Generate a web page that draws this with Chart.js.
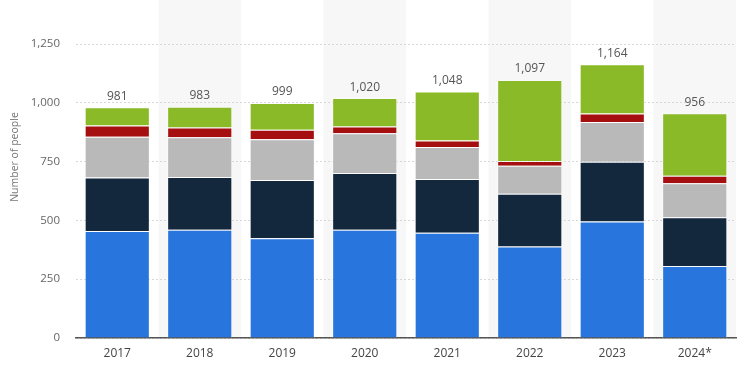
<!DOCTYPE html>
<html>
<head>
<meta charset="utf-8">
<script src="https://cdn.jsdelivr.net/npm/chart.js@4/dist/chart.umd.min.js"></script>
<style>
html,body{margin:0;padding:0;background:#fff;}
#wrap{width:750px;height:375px;position:relative;}
</style>
</head>
<body>
<div id="wrap"><canvas id="c" width="750" height="375"></canvas></div>
<script>
const categories = ["2017","2018","2019","2020","2021","2022","2023","2024*"];
const white    = [455, 460, 424, 460, 448, 389, 495, 306];
const black    = [227, 225, 248, 241, 228, 224, 254, 207];
const hispanic = [174, 169, 173, 170, 136, 119, 169, 145];
const other    = [47, 41, 40, 28, 28, 21, 37, 32];
const unknown  = [78, 88, 114, 121, 208, 344, 209, 266];
const totals   = [981, 983, 999, 1020, 1048, 1097, 1164, 956];
const yTicks   = [0, 250, 500, 750, 1000, 1250];
const yTitle   = "Number of people";

const FONT = "'Open Sans', 'Noto Sans', sans-serif";

const bandPlugin = {
  id: 'bands',
  beforeDraw(chart) {
    const {ctx, chartArea, scales} = chart;
    const x = scales.x;
    ctx.save();
    ctx.fillStyle = '#f7f7f7';
    const half = (x.getPixelForValue(1) - x.getPixelForValue(0)) / 2;
    for (let i = 1; i < categories.length; i += 2) {
      const c = x.getPixelForValue(i);
      ctx.fillRect(c - half, 0, half * 2, chartArea.bottom);
    }
    ctx.restore();
  }
};

const totalsPlugin = {
  id: 'totals',
  afterDatasetsDraw(chart) {
    const {ctx, scales} = chart;
    ctx.save();
    ctx.font = "12px " + FONT;
    ctx.fillStyle = '#555';
    ctx.textAlign = 'center';
    ctx.textBaseline = 'bottom';
    totals.forEach((t, i) => {
      const x = scales.x.getPixelForValue(i);
      const y = scales.y.getPixelForValue(t);
      ctx.fillText(t.toLocaleString('en-US'), x, y - 5);
    });
    // y-axis title
    ctx.translate(15, 157);
    ctx.rotate(-Math.PI / 2);
    ctx.font = "10.5px " + FONT;
    ctx.fillStyle = '#777';
    ctx.textBaseline = 'middle';
    ctx.fillText(yTitle, 0, 0);
    ctx.restore();
  }
};

const mk = (label, data, color) => ({
  label, data, backgroundColor: color,
  borderColor: 'rgba(255,255,255,0.55)', borderWidth: 1,
  barPercentage: 0.79, categoryPercentage: 1.0
});

new Chart(document.getElementById('c'), {
  type: 'bar',
  data: {
    labels: categories,
    datasets: [
      mk('White', white, '#2876dd'),
      mk('Black', black, '#13273d'),
      mk('Hispanic', hispanic, '#b9b9b9'),
      mk('Other', other, '#a50f0f'),
      mk('Unknown', unknown, '#8aba27')
    ]
  },
  plugins: [bandPlugin, totalsPlugin],
  options: {
    responsive: false,
    animation: false,
    layout: { padding: { top: 44, right: 14, left: 0, bottom: 0 } },
    plugins: { legend: { display: false }, tooltip: { enabled: false } },
    scales: {
      x: {
        stacked: true,
        grid: { display: false, drawTicks: false },
        border: { display: true, color: '#555', width: 1.5 },
        ticks: { color: '#444', font: { family: FONT, size: 12 }, padding: 8 },
        afterFit(s) { s.height = 37; }
      },
      y: {
        stacked: true,
        min: 0, max: 1250,
        afterBuildTicks(s) { s.ticks = yTicks.map(v => ({ value: v })); },
        grid: { color: '#d8d8d8', drawTicks: false, lineWidth: 1 },
        border: { display: false, dash: [2, 2] },
        ticks: {
          color: '#666', font: { family: FONT, size: 11.5 }, padding: 16,
          callback: v => v.toLocaleString('en-US')
        },
        title: { display: false },
        afterFit(s) { s.width = 76; }
      }
    }
  }
});
</script>
</body>
</html>
